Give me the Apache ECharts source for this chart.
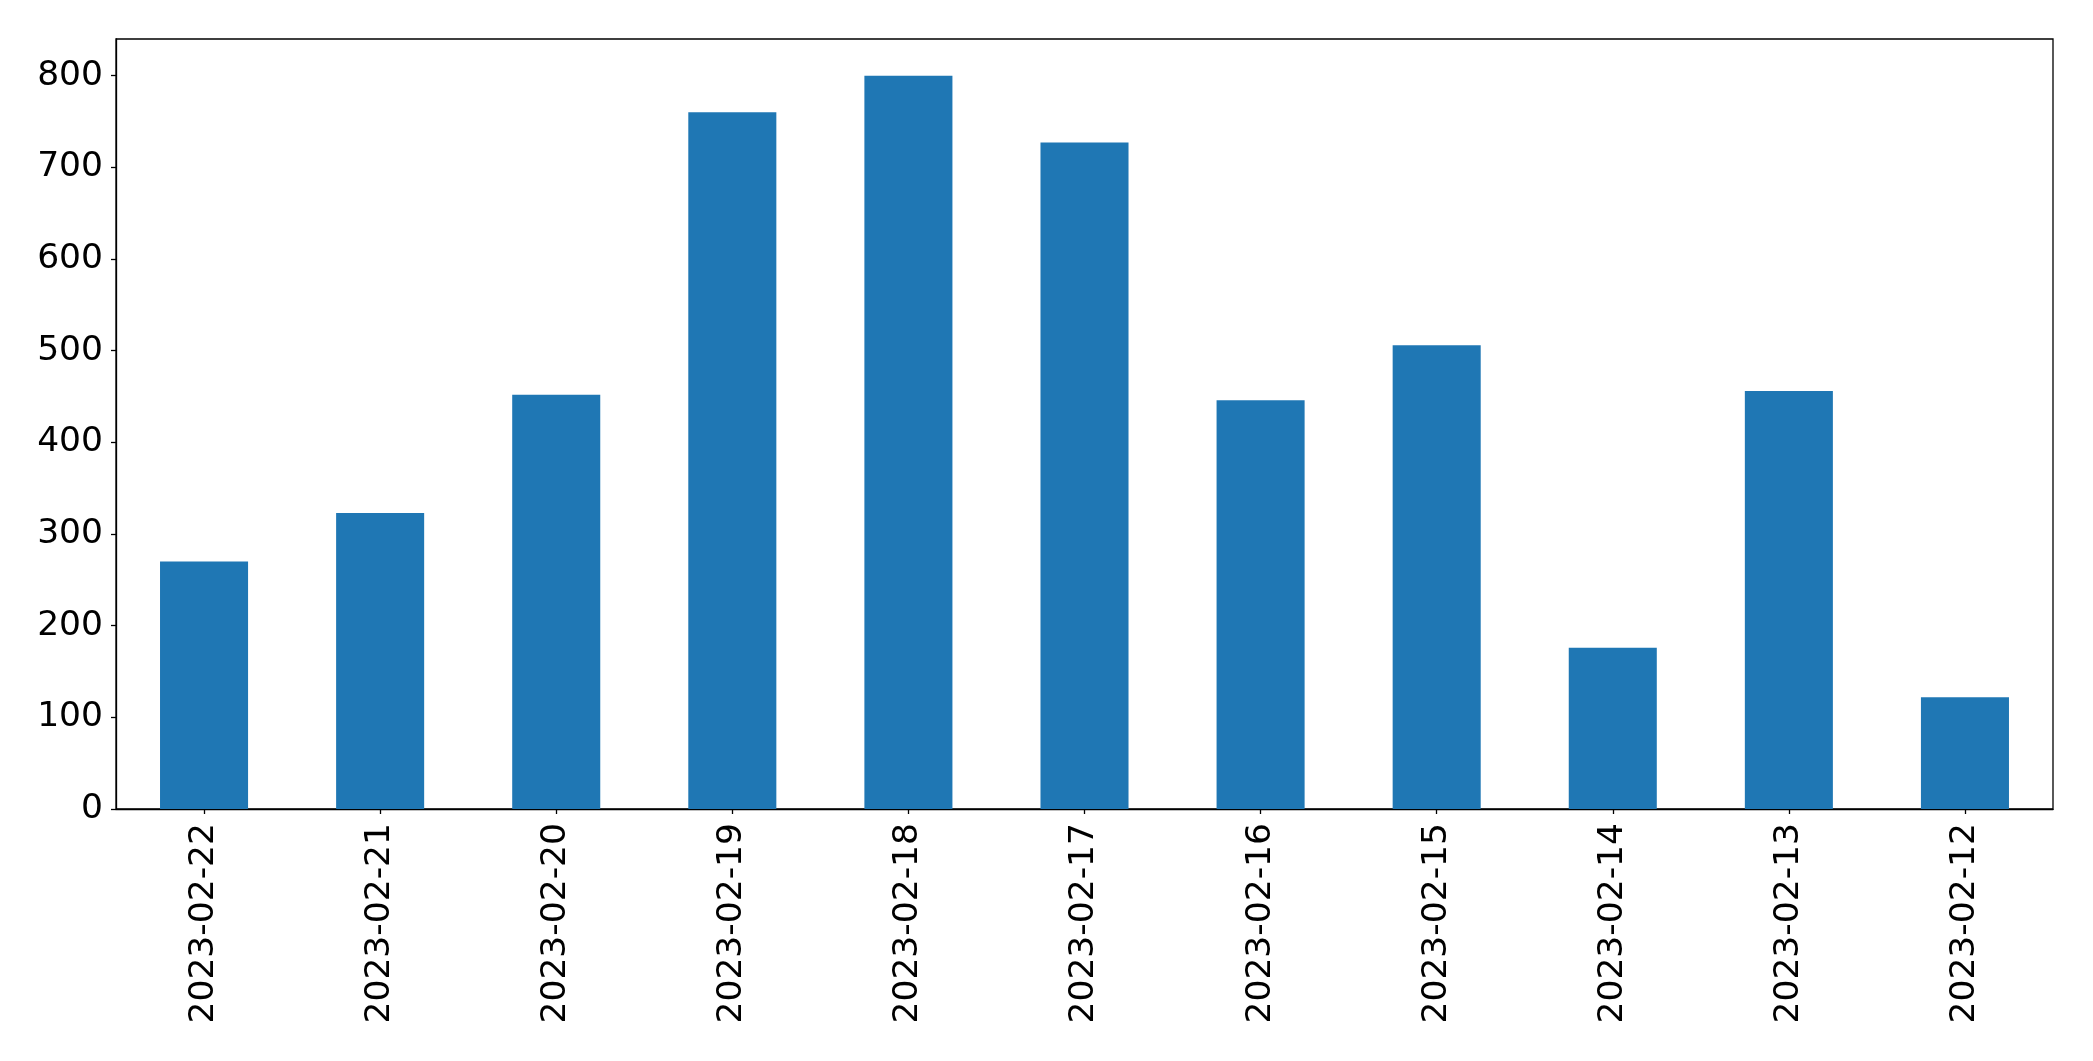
<!DOCTYPE html>
<html>
<head>
<meta charset="utf-8">
<script src="https://cdn.jsdelivr.net/npm/echarts@6/dist/echarts.min.js"></script>
<style>html,body{margin:0;padding:0;background:#fff}#c{width:2093px;height:1061px}</style>
</head>
<body>
<div id="c"></div>
<script>
const categories = ['2023-02-22','2023-02-21','2023-02-20','2023-02-19','2023-02-18','2023-02-17','2023-02-16','2023-02-15','2023-02-14','2023-02-13','2023-02-12'];
const values = [270, 323, 452, 760, 800, 727, 446, 506, 176, 456, 122];
const yTicks = [0, 100, 200, 300, 400, 500, 600, 700, 800];

const chart = echarts.init(document.getElementById('c'), null, {renderer: 'canvas'});
const font = 'DejaVu Sans';
chart.setOption({
  animation: false,
  backgroundColor: '#ffffff',
  grid: {left: 116, right: 40, top: 39, bottom: 252, show: true, borderColor: '#000', borderWidth: 1.3, backgroundColor: 'transparent'},
  xAxis: {
    type: 'category',
    data: categories,
    axisLine: {show: true, lineStyle: {color: '#000', width: 1.3}},
    axisTick: {show: true, alignWithLabel: true, length: 5, lineStyle: {color: '#000', width: 1.3}},
    axisLabel: {rotate: 90, margin: 14, color: '#000', fontSize: 34.5, fontFamily: font, interval: 0}
  },
  yAxis: {
    type: 'value',
    min: 0,
    max: 840,
    interval: 100,
    splitLine: {show: false},
    axisLine: {show: true, lineStyle: {color: '#000', width: 1.3}},
    axisTick: {show: true, length: 5, customValues: yTicks, lineStyle: {color: '#000', width: 1.3}},
    axisLabel: {margin: 13, color: '#000', fontSize: 34.5, fontFamily: font, customValues: yTicks,
      formatter: v => yTicks.includes(v) ? String(v) : ''}
  },
  series: [{
    type: 'bar',
    data: values,
    barWidth: '50%',
    itemStyle: {color: '#1f77b4'}
  }]
});
</script>
</body>
</html>
